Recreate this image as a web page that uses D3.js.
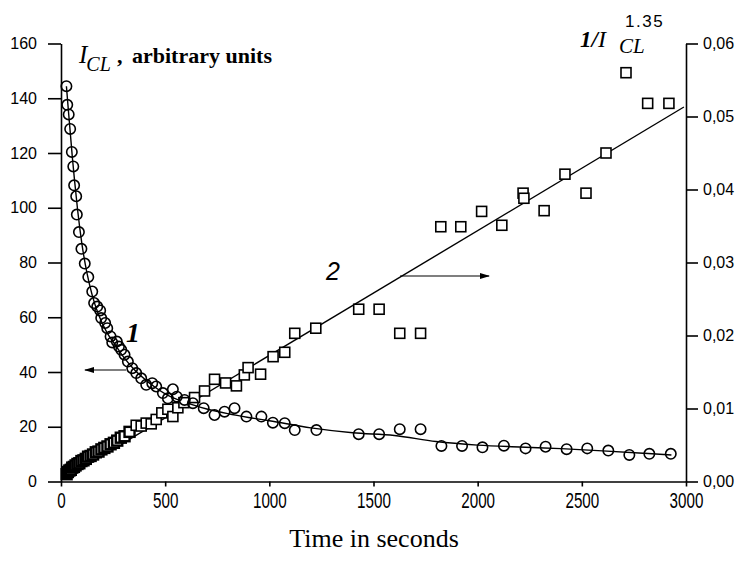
<!DOCTYPE html>
<html>
<head>
<meta charset="utf-8">
<script src="https://cdnjs.cloudflare.com/ajax/libs/d3/7.8.5/d3.min.js"></script>
<style>
	body { margin: 0; background: #fff; }
	svg { display: block; }
	.tick text { font-family: 'Liberation Sans', Arial, sans-serif; fill: #000; }
</style>
</head>
<body>
<svg id="chart" width="741" height="573"></svg>
<script>
// curve 1 : I_CL (circles, left axis)
const circleT = [26, 30, 37, 44, 52, 59, 63, 73, 76, 86, 98, 114, 131, 150, 159, 174, 188, 193, 212, 222,
	238, 246, 268, 278, 289, 305, 321, 342, 361, 385, 409, 438, 457, 489, 513, 537, 556, 593, 633, 685,
	737, 785, 833, 890, 962, 1017, 1074, 1122, 1226, 1429, 1527, 1626, 1726, 1826, 1925, 2023, 2126, 2230,
	2326, 2427, 2526, 2627, 2728, 2824, 2927]
const circleI = [144.4, 137.6, 134.1, 128.8, 120.4, 115.1, 108.2, 104.2, 97.5, 91.1, 85.0, 79.6, 74.7, 69.4, 65.2, 63.9, 62.5, 59.7, 57.9, 56.0,
	53.0, 50.8, 51.1, 49.3, 48.1, 46.3, 43.8, 41.4, 39.6, 37.7, 35.3, 35.9, 34.7, 32.3, 30.4, 33.7, 31.0, 29.8, 28.6, 26.8,
	24.3, 25.5, 26.8, 23.7, 23.7, 21.5, 21.3, 18.8, 18.8, 17.3, 17.3, 19.1, 19.1, 13.0, 13.0, 12.5, 13.1, 12.1,
	12.7, 11.8, 12.1, 11.3, 9.7, 10.1, 10.1]

// fitted curve 1
const fit1T = [26, 35, 45, 55, 65, 80, 100, 125, 150, 180, 220, 260, 300, 350, 400, 450, 500, 600, 700, 800,
	900, 1000, 1200, 1400, 1600, 1800, 2000, 2200, 2400, 2600, 2800, 2930]
const fit1I = [144.4, 136, 127, 118, 110, 99, 87, 76, 68, 61, 54.5, 50, 45.5, 41, 37.5, 34.5, 32, 28.8, 26.5, 24.8,
	23.4, 22.2, 19.6, 17.8, 16.8, 14.6, 13.3, 12.6, 12.0, 11.2, 10.3, 9.7]

// curve 2 : 1/I_CL^1.35 (squares, right axis)
const squareT = [27, 33, 40, 47, 54, 62, 70, 79, 88, 98, 108, 119, 130, 142, 154, 167, 180, 194, 208, 223,
	238, 254, 270, 287, 305, 329, 361, 385, 409, 433, 457, 484, 513, 537, 561, 590, 641, 689, 737, 790,
	842, 880, 898, 958, 1018, 1074, 1122, 1223, 1429, 1527, 1626, 1726, 1823, 1919, 2019, 2116, 2218, 2222,
	2319, 2419, 2520, 2616, 2712, 2816, 2918]
const squareV = [0.0010, 0.0013, 0.0015, 0.0016, 0.0019, 0.0020, 0.0022, 0.0024, 0.0025, 0.0028, 0.0029, 0.0031, 0.0034, 0.0035, 0.0037, 0.0040, 0.0041, 0.0044, 0.0046, 0.0048,
	0.0051, 0.0053, 0.0056, 0.0060, 0.0062, 0.0068, 0.0077, 0.0076, 0.0080, 0.0079, 0.0085, 0.0094, 0.0099, 0.0089, 0.0101, 0.0108, 0.0115, 0.0124, 0.0140, 0.0135,
	0.0131, 0.0146, 0.0156, 0.0147, 0.0171, 0.0177, 0.0203, 0.0210, 0.0236, 0.0236, 0.0203, 0.0203, 0.0349, 0.0349, 0.0370, 0.0351, 0.0395, 0.0388,
	0.0371, 0.0421, 0.0395, 0.0450, 0.0560, 0.0518, 0.0518]

// fitted line 2
const fit2T = [20, 2990]
const fit2V = [0.0005, 0.0513]

const xTicks = [0, 500, 1000, 1500, 2000, 2500, 3000]
const leftTicks = [0, 20, 40, 60, 80, 100, 120, 140, 160]
const rightTicks = [0, 0.01, 0.02, 0.03, 0.04, 0.05, 0.06]

const svg = d3.select('#chart')

const xScale = d3.scaleLinear().domain([0, 3000]).range([61, 686])
const yLeft = d3.scaleLinear().domain([0, 160]).range([481.5, 43.5])
const yRight = d3.scaleLinear().domain([0, 0.06]).range([481.5, 43.5])

// axes
const xAxisG = svg.append('g')
	.attr('transform', `translate(0, ${yLeft(0)})`)
	.call(d3.axisBottom(xScale).tickValues(xTicks).tickSize(5).tickSizeOuter(0).tickFormat(d3.format('d')))
xAxisG.selectAll('.tick text')
	.attr('y', 8.5)
	.attr('font-size', 16)
	.attr('transform', 'scale(0.95,1.35)')

const leftAxisG = svg.append('g')
	.attr('transform', `translate(${xScale(0)}, 0)`)
	.call(d3.axisLeft(yLeft).tickValues(leftTicks).tickSize(13).tickPadding(11).tickSizeOuter(0))
leftAxisG.selectAll('.tick text').attr('font-size', 16)

const rightAxisG = svg.append('g')
	.attr('transform', `translate(${xScale(3000)}, 0)`)
	.call(d3.axisRight(yRight).tickValues(rightTicks).tickSize(12).tickPadding(5).tickSizeOuter(0)
		.tickFormat(d => d3.format('.2f')(d).replace('.', ',')))
rightAxisG.selectAll('.tick text').attr('font-size', 16)

svg.selectAll('.domain, .tick line').attr('stroke', '#000').attr('stroke-width', 1.6)

// fitted lines
const line1 = d3.line()
	.x(i => xScale(fit1T[i]))
	.y(i => yLeft(fit1I[i]))
	.curve(d3.curveMonotoneX)
svg.append('path')
	.attr('d', line1(d3.range(fit1T.length)))
	.attr('fill', 'none')
	.attr('stroke', '#000')
	.attr('stroke-width', 1.4)

const line2 = d3.line()
	.x(i => xScale(fit2T[i]))
	.y(i => yRight(fit2V[i]))
svg.append('path')
	.attr('d', line2(d3.range(fit2T.length)))
	.attr('fill', 'none')
	.attr('stroke', '#000')
	.attr('stroke-width', 1.4)

// markers
const sq = 10
svg.append('g').selectAll('rect')
	.data(d3.range(squareT.length))
	.enter()
	.append('rect')
	.attr('x', i => xScale(squareT[i]) - sq / 2)
	.attr('y', i => yRight(squareV[i]) - sq / 2)
	.attr('width', sq)
	.attr('height', sq)
	.attr('fill', '#fff')
	.attr('stroke', '#000')
	.attr('stroke-width', i => squareT[i] < 330 ? 2.4 : 1.6)

svg.append('g').selectAll('circle')
	.data(d3.range(circleT.length))
	.enter()
	.append('circle')
	.attr('cx', i => xScale(circleT[i]))
	.attr('cy', i => yLeft(circleI[i]))
	.attr('r', 5.2)
	.attr('fill', 'none')
	.attr('stroke', '#000')
	.attr('stroke-width', 1.6)

// arrows
svg.append('defs').append('marker')
	.attr('id', 'head')
	.attr('viewBox', '0 0 10 6')
	.attr('refX', 9)
	.attr('refY', 3)
	.attr('markerWidth', 13)
	.attr('markerHeight', 6)
	.attr('markerUnits', 'userSpaceOnUse')
	.attr('orient', 'auto')
	.append('path')
	.attr('d', 'M0,0 L10,3 L0,6 Z')
	.attr('fill', '#000')

svg.append('line')
	.attr('x1', 126).attr('y1', 370)
	.attr('x2', 85).attr('y2', 370)
	.attr('stroke', '#000').attr('stroke-width', 1.2)
	.attr('marker-end', 'url(#head)')

svg.append('line')
	.attr('x1', 400).attr('y1', 276)
	.attr('x2', 489).attr('y2', 276)
	.attr('stroke', '#000').attr('stroke-width', 1.2)
	.attr('marker-end', 'url(#head)')

// curve numbers
svg.append('text')
	.text('1')
	.attr('x', 126).attr('y', 342)
	.attr('font-family', "'Liberation Serif', serif")
	.attr('font-style', 'italic')
	.attr('font-weight', 'bold')
	.attr('font-size', 28)

svg.append('text')
	.text('2')
	.attr('x', 326).attr('y', 280)
	.attr('font-family', "'Liberation Sans', Arial, sans-serif")
	.attr('font-style', 'italic')
	.attr('font-size', 25)

// axis titles
const leftTitle = svg.append('text')
	.attr('font-family', "'Liberation Serif', serif")
	.attr('y', 63)
leftTitle.append('tspan').attr('x', 79).attr('font-style', 'italic').attr('font-size', 25).text('I')
leftTitle.append('tspan').attr('dy', 8).attr('dx', -1).attr('font-style', 'italic').attr('font-size', 20).text('CL')
leftTitle.append('tspan').attr('x', 117).attr('y', 63).attr('font-weight', 'bold').attr('font-size', 22).text(',')
leftTitle.append('tspan').attr('x', 132).attr('y', 63).attr('font-weight', 'bold').attr('font-size', 22).text('arbitrary units')

const rightTitle = svg.append('text')
	.attr('font-family', "'Liberation Serif', serif")
	.attr('y', 47)
rightTitle.append('tspan').attr('x', 580).attr('font-style', 'italic').attr('font-weight', 'bold').attr('font-size', 23).text('1/')
rightTitle.append('tspan').attr('font-style', 'italic').attr('font-size', 24).text('I')
rightTitle.append('tspan').attr('x', 619).attr('y', 53).attr('font-style', 'italic').attr('font-size', 21).text('CL')
rightTitle.append('tspan').attr('x', 625).attr('y', 27)
	.attr('font-family', "'Liberation Sans', Arial, sans-serif")
	.attr('font-size', 17).attr('letter-spacing', 1.5).text('1.35')

svg.append('text')
	.text('Time in seconds')
	.attr('x', 374).attr('y', 547)
	.attr('text-anchor', 'middle')
	.attr('font-family', "'Liberation Serif', serif")
	.attr('font-size', 26)
</script>
</body>
</html>
